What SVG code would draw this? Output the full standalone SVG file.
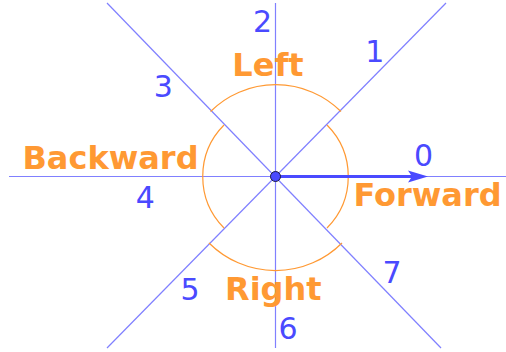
<svg xmlns="http://www.w3.org/2000/svg" width="506" height="352" viewBox="0 0 506 352">
<style>
.ax{stroke:#8080ff;stroke-width:1.2;fill:none}
.arc{stroke:#ff9933;stroke-width:1.2;fill:none}
.num{font-family:"DejaVu Sans",sans-serif;font-size:30px;fill:#4a4aff;text-anchor:middle}
.lbl{font-family:"DejaVu Sans",sans-serif;font-weight:bold;font-size:32px;fill:#ff9933;text-anchor:middle}
</style>
<rect width="506" height="352" fill="#ffffff"/>
<g id="axes">
<line class="ax" x1="9" y1="176.5" x2="506" y2="176.5"/>
<line class="ax" x1="275.5" y1="3" x2="275.5" y2="348"/>
<line class="ax" x1="107" y1="3" x2="441" y2="348"/>
<line class="ax" x1="446" y1="3" x2="107" y2="348"/>
</g>
<g id="arcs">
<path class="arc" d="M210.5,111.5 A92.7,92.7 0 0 1 341,111.5"/>
<path class="arc" d="M209,243 A94,94 0 0 0 342,243"/>
<path class="arc" d="M224,125 A73,73 0 0 0 224,228"/>
<path class="arc" d="M327,125 A73,73 0 0 1 327,228"/>
</g>
<g id="arrow">
<line x1="275.5" y1="176.5" x2="412" y2="176.5" stroke="#4a4aff" stroke-width="3.2"/>
<path d="M428,176.5 L408,170.5 L412,176.5 L408,182.5 Z" fill="#4a4aff"/>
</g>
<g id="center">
<circle cx="275.5" cy="176.5" r="5" fill="#4a4aff" stroke="#1a1a40" stroke-width="1"/>
</g>
<g id="numbers">
<text class="num" x="423.5" y="166">0</text>
<text class="num" x="374.7" y="62">1</text>
<text class="num" x="262.5" y="32">2</text>
<text class="num" x="163.3" y="97">3</text>
<text class="num" x="145.3" y="207.5">4</text>
<text class="num" x="190" y="300">5</text>
<text class="num" x="288" y="339">6</text>
<text class="num" x="392" y="283">7</text>
</g>
<g id="labels">
<text class="lbl" x="268" y="76">Left</text>
<text class="lbl" x="110.5" y="169">Backward</text>
<text class="lbl" x="427.5" y="206">Forward</text>
<text class="lbl" x="273.3" y="300">Right</text>
</g>
</svg>
